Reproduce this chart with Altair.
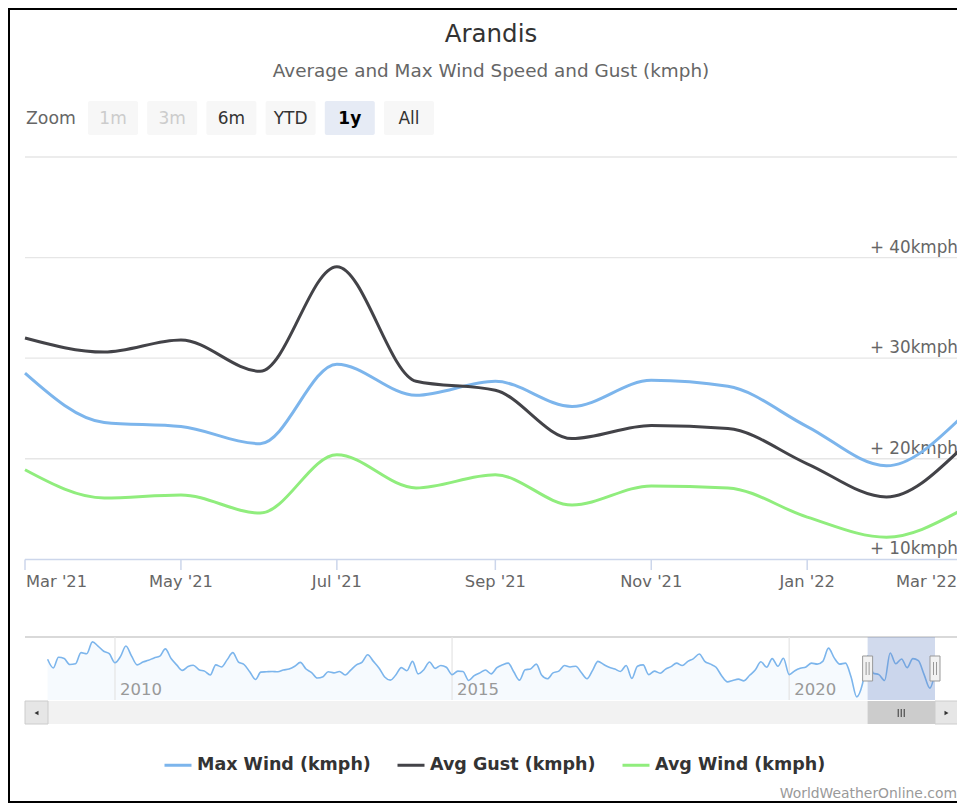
import altair as alt
import pandas as pd

# ---------------- data ----------------
months = ["2021-03-01", "2021-04-01", "2021-05-01", "2021-06-01", "2021-07-01",
          "2021-08-01", "2021-09-01", "2021-10-01", "2021-11-01", "2021-12-01",
          "2022-01-01", "2022-02-01", "2022-03-01"]
max_wind = [28.5, 23.6, 23.2, 21.5, 29.4, 26.3, 27.7, 25.2, 27.8, 27.2, 23.2, 19.3, 23.8]
avg_gust = [32.0, 30.6, 31.8, 28.7, 39.1, 27.7, 26.8, 22.0, 23.3, 23.0, 19.5, 16.2, 20.7]
avg_wind = [18.9, 16.1, 16.4, 14.6, 20.4, 17.1, 18.4, 15.4, 17.3, 17.1, 14.2, 12.2, 14.7]

series_names = ["Max Wind (kmph)", "Avg Gust (kmph)", "Avg Wind (kmph)"]
series_colors = ["#7cb5ec", "#434348", "#90ed7d"]

y_grid = [10, 20, 30, 40, 50]
y_label_values = [10, 20, 30, 40]
y_labels = ["+ 10kmph", "+ 20kmph", "+ 30kmph", "+ 40kmph"]

x_tick_months = ["2021-03-01", "2021-05-01", "2021-07-01", "2021-09-01",
                 "2021-11-01", "2022-01-01", "2022-03-01"]
x_tick_labels = ["Mar '21", "May '21", "Jul '21", "Sep '21", "Nov '21", "Jan '22", "Mar '22"]

# navigator: monthly Max Wind history, Jan 2009 .. Feb 2021 (the last year is max_wind)
nav_start = "2009-01-01"
nav_history = [
    27.6, 25.1, 28.2, 27.8, 26.1, 26.3, 29.5, 29.2, 32.6, 31.4, 29.9, 29.2,
    26.6, 28.5, 31.4, 28.5, 26.0, 26.8, 27.3, 28.0, 28.5, 30.6, 27.8, 26.0,
    24.4, 25.5, 25.9, 24.6, 24.2, 23.1, 26.0, 25.4, 27.5, 29.5, 26.8, 26.1,
    24.0, 21.8, 23.9, 24.0, 24.1, 24.0, 24.5, 24.8, 25.6, 26.7, 24.8, 23.8,
    22.2, 22.6, 24.0, 23.7, 24.1, 23.1, 24.5, 26.0, 26.8, 28.9, 27.0, 25.1,
    22.5, 21.6, 23.0, 25.2, 24.3, 27.0, 23.4, 24.6, 26.8, 25.0, 25.8, 25.3,
    23.2, 24.2, 24.1, 21.5, 22.9, 23.7, 24.5, 23.4, 25.2, 26.0, 26.5, 24.0,
    21.6, 24.6, 24.8, 26.2, 23.0, 22.0, 23.7, 24.2, 25.8, 25.4, 25.6, 23.8,
    22.0, 24.5, 27.0, 26.1, 25.3, 24.8, 24.1, 25.8, 22.1, 25.6, 26.0, 23.2,
    24.2, 23.6, 24.7, 25.5, 26.5, 25.8, 27.0, 27.8, 29.1, 27.0, 26.2, 25.3,
    22.8, 21.1, 21.5, 21.9, 21.4, 23.0, 24.5, 26.9, 25.3, 27.8, 25.6, 27.9,
    23.2, 24.3, 25.0, 25.4, 26.5, 26.2, 27.0, 30.8, 28.0, 26.2, 26.5, 22.6,
    16.8, 20.5,
]
nav_y_min, nav_y_max = 15.9, 34.0
nav_years = ["2010-01-01", "2015-01-01", "2020-01-01"]
nav_year_labels = ["2010", "2015", "2020"]

zoom_buttons = ["1m", "3m", "6m", "YTD", "1y", "All"]
zoom_states = ["disabled", "disabled", "normal", "normal", "selected", "normal"]

title_text = "Arandis"
subtitle_text = "Average and Max Wind Speed and Gust (kmph)"
credits_text = "WorldWeatherOnline.com"

# ---------------- layout helpers ----------------
W, H = 949, 795
FONT = "DejaVu Sans"


def px(x):
    return x - 8


def py(y):
    return y - 8


def dt(s):
    t = pd.Timestamp(s)
    return alt.DateTime(year=t.year, month=t.month, date=t.day, utc=True)


one = pd.DataFrame({"k": [0]})

main_x = alt.Scale(type="utc", domain=[dt(months[0]), dt(months[-1])],
                   range=[px(25), px(958)], nice=False)
main_y = alt.Scale(domain=[10, 50], range=[py(559.3), py(157)], nice=False, zero=False)

nav_values = nav_history + max_wind
nav_dates = pd.date_range(nav_start, periods=len(nav_values), freq="MS").strftime("%Y-%m-%d").tolist()
nav_x = alt.Scale(type="utc", domain=[dt(nav_dates[0]), dt(nav_dates[-1])],
                  range=[px(47.6), px(935)], nice=False)
nav_y = alt.Scale(domain=[nav_y_min, nav_y_max], range=[py(700), py(637)], nice=False,
                  zero=False, clamp=True)

# ---------------- frames ----------------
df_main = pd.DataFrame({
    "date": months * 3,
    "value": max_wind + avg_gust + avg_wind,
    "series": [series_names[0]] * len(months) + [series_names[1]] * len(months)
              + [series_names[2]] * len(months),
})
df_grid = pd.DataFrame({"v": y_grid})
df_ylab = pd.DataFrame({"v": y_label_values, "label": y_labels})
df_xt = pd.DataFrame({"date": x_tick_months, "label": x_tick_labels,
                      "idx": list(range(len(x_tick_months)))})
n_xt = len(x_tick_months)
df_nav = pd.DataFrame({"date": nav_dates, "value": nav_values,
                       "base": [nav_y_min] * len(nav_values)})
df_years = pd.DataFrame({"date": nav_years, "label": nav_year_labels})
sel_mid = (pd.Timestamp(months[0]) + (pd.Timestamp(months[-1]) - pd.Timestamp(months[0])) / 2).strftime("%Y-%m-%d")
df_sel = pd.DataFrame({"start": [months[0]], "end": [months[-1]], "mid": [sel_mid]})
df_handles = pd.DataFrame({"date": [months[0], months[-1]]})
df_btn = pd.DataFrame({"label": zoom_buttons, "state": zoom_states})

layers = []

# black frame (screenshot border: left, top, bottom)
layers.append(alt.Chart(one).mark_rule(color="#000000", strokeWidth=2).encode(
    x=alt.value(1), x2=alt.value(1), y=alt.value(0), y2=alt.value(H)))
layers.append(alt.Chart(one).mark_rule(color="#000000", strokeWidth=2).encode(
    x=alt.value(0), x2=alt.value(W), y=alt.value(1), y2=alt.value(1)))
layers.append(alt.Chart(one).mark_rule(color="#000000", strokeWidth=2).encode(
    x=alt.value(0), x2=alt.value(W), y=alt.value(H - 1), y2=alt.value(H - 1)))

# title & subtitle
layers.append(alt.Chart(one).mark_text(text=title_text, font=FONT, fontSize=24.5, color="#333333",
                                       align="center", baseline="alphabetic").encode(
    x=alt.value(px(491)), y=alt.value(py(42))))
layers.append(alt.Chart(one).mark_text(text=subtitle_text, font=FONT, fontSize=18.4, color="#666666",
                                       align="center", baseline="alphabetic").encode(
    x=alt.value(px(491)), y=alt.value(py(77))))

# zoom buttons
btn_scale = alt.Scale(type="band", domain=zoom_buttons, range=[px(88), px(434)],
                      paddingInner=0.155, paddingOuter=0)
layers.append(alt.Chart(one).mark_text(text="Zoom", font=FONT, fontSize=17.3, color="#666666",
                                       align="left", baseline="alphabetic").encode(
    x=alt.value(px(26)), y=alt.value(py(124))))
layers.append(alt.Chart(df_btn).mark_rect(cornerRadius=2).encode(
    x=alt.X("label:N", scale=btn_scale, axis=None),
    y=alt.value(py(101)), y2=alt.value(py(135)),
    color=alt.Color("state:N", scale=alt.Scale(domain=["disabled", "normal", "selected"],
                                               range=["#f7f7f7", "#f7f7f7", "#e6ebf5"]),
                    legend=None)))
layers.append(alt.Chart(df_btn).transform_filter("datum.state != 'selected'").mark_text(
    font=FONT, fontSize=17, baseline="alphabetic", align="center").encode(
    x=alt.X("label:N", scale=btn_scale, axis=None),
    y=alt.value(py(124)),
    text="label:N",
    color=alt.Color("state:N", scale=alt.Scale(domain=["disabled", "normal"],
                                               range=["#cccccc", "#333333"]), legend=None)))
layers.append(alt.Chart(df_btn).transform_filter("datum.state == 'selected'").mark_text(
    font=FONT, fontSize=17, fontWeight="bold", color="#000000", baseline="alphabetic",
    align="center").encode(
    x=alt.X("label:N", scale=btn_scale, axis=None),
    y=alt.value(py(124)),
    text="label:N"))

# main plot: grid lines and labels
layers.append(alt.Chart(df_grid).transform_filter("datum.v > 10").mark_rule(
    color="#e6e6e6", strokeWidth=1.3).encode(
    y=alt.Y("v:Q", scale=main_y, axis=None),
    x=alt.value(px(25)), x2=alt.value(px(958))))
layers.append(alt.Chart(df_ylab).mark_text(font=FONT, fontSize=16.8, color="#666666", align="right",
                                           baseline="alphabetic", dy=-5).encode(
    y=alt.Y("v:Q", scale=main_y, axis=None),
    x=alt.value(px(958)),
    text="label:N"))

# x axis line, ticks, labels
layers.append(alt.Chart(one).mark_rule(color="#ccd6eb", strokeWidth=1.5).encode(
    x=alt.value(px(25)), x2=alt.value(px(958)), y=alt.value(py(559.5)), y2=alt.value(py(559.5))))
layers.append(alt.Chart(df_xt).mark_rule(color="#ccd6eb", strokeWidth=1.5).encode(
    x=alt.X("date:T", scale=main_x, axis=None),
    y=alt.value(py(559.5)), y2=alt.value(py(570))))
for cond, al, ddx in [("datum.idx == 0", "left", 1),
                      (f"datum.idx > 0 && datum.idx < {n_xt - 1}", "center", 0),
                      (f"datum.idx == {n_xt - 1}", "right", -1)]:
    layers.append(alt.Chart(df_xt).transform_filter(cond).mark_text(
        font=FONT, fontSize=16.3, color="#666666", align=al, baseline="alphabetic", dx=ddx).encode(
        x=alt.X("date:T", scale=main_x, axis=None),
        y=alt.value(py(587)),
        text="label:N"))

# main series
layers.append(alt.Chart(df_main).mark_line(interpolate="monotone", strokeWidth=3).encode(
    x=alt.X("date:T", scale=main_x, axis=None),
    y=alt.Y("value:Q", scale=main_y, axis=None),
    color=alt.Color("series:N",
                    scale=alt.Scale(domain=series_names, range=series_colors),
                    legend=alt.Legend(orient="none", legendX=px(163), legendY=py(750),
                                      direction="horizontal", title=None,
                                      symbolType="stroke", symbolSize=729,
                                      symbolStrokeWidth=3, labelFontSize=17.5,
                                      labelFontWeight="bold", labelColor="#333333",
                                      labelFont=FONT, labelOffset=4, columnPadding=20,
                                      padding=0, labelLimit=400)),
))

# navigator
layers.append(alt.Chart(one).mark_rule(color="#cccccc", strokeWidth=1.3).encode(
    x=alt.value(px(25)), x2=alt.value(px(958)), y=alt.value(py(637)), y2=alt.value(py(637))))
layers.append(alt.Chart(df_nav).mark_area(interpolate="monotone", color="#7cb5ec", opacity=0.07).encode(
    x=alt.X("date:T", scale=nav_x, axis=None),
    y=alt.Y("value:Q", scale=nav_y, axis=None),
    y2="base:Q"))
layers.append(alt.Chart(df_years).mark_rule(color="#e6e6e6", strokeWidth=1.3).encode(
    x=alt.X("date:T", scale=nav_x, axis=None),
    y=alt.value(py(637)), y2=alt.value(py(700))))
layers.append(alt.Chart(df_years).mark_text(font=FONT, fontSize=16.5, color="#999999", align="left",
                                            baseline="alphabetic", dx=5).encode(
    x=alt.X("date:T", scale=nav_x, axis=None),
    y=alt.value(py(695)),
    text="label:N"))
layers.append(alt.Chart(df_nav).mark_line(interpolate="monotone", color="#7cb5ec", strokeWidth=1.6).encode(
    x=alt.X("date:T", scale=nav_x, axis=None),
    y=alt.Y("value:Q", scale=nav_y, axis=None)))
layers.append(alt.Chart(df_sel).mark_rect(color="#6685c2", opacity=0.3).encode(
    x=alt.X("start:T", scale=nav_x, axis=None), x2="end:T",
    y=alt.value(py(637)), y2=alt.value(py(700))))
layers.append(alt.Chart(df_handles).mark_rect(fill="#f2f2f2", stroke="#999999", strokeWidth=1,
                                              xOffset=-5, x2Offset=5).encode(
    x=alt.X("date:T", scale=nav_x, axis=None), x2="date:T",
    y=alt.value(py(656)), y2=alt.value(py(681))))
for off in [-1.5, 1.5]:
    layers.append(alt.Chart(df_handles).mark_rule(color="#999999", strokeWidth=1, xOffset=off).encode(
        x=alt.X("date:T", scale=nav_x, axis=None),
        y=alt.value(py(662)), y2=alt.value(py(675))))

# scrollbar
layers.append(alt.Chart(one).mark_rect(fill="#f2f2f2").encode(
    x=alt.value(px(25)), x2=alt.value(px(958)), y=alt.value(py(701)), y2=alt.value(py(724))))
layers.append(alt.Chart(one).mark_rect(fill="#e6e6e6", stroke="#cccccc", strokeWidth=1).encode(
    x=alt.value(px(25)), x2=alt.value(px(48)), y=alt.value(py(701)), y2=alt.value(py(724))))
layers.append(alt.Chart(one).mark_rect(fill="#e6e6e6", stroke="#cccccc", strokeWidth=1).encode(
    x=alt.value(px(935)), x2=alt.value(px(958)), y=alt.value(py(701)), y2=alt.value(py(724))))
layers.append(alt.Chart(df_sel).mark_rect(fill="#cccccc").encode(
    x=alt.X("start:T", scale=nav_x, axis=None), x2="end:T",
    y=alt.value(py(701)), y2=alt.value(py(724))))
for off in [-3, 0, 3]:
    layers.append(alt.Chart(df_sel).mark_rule(color="#333333", strokeWidth=1, xOffset=off).encode(
        x=alt.X("mid:T", scale=nav_x, axis=None),
        y=alt.value(py(709)), y2=alt.value(py(717))))
layers.append(alt.Chart(one).mark_point(shape="triangle-left", filled=True, color="#333333",
                                        size=22, opacity=1).encode(
    x=alt.value(px(36.5)), y=alt.value(py(713))))
layers.append(alt.Chart(one).mark_point(shape="triangle-right", filled=True, color="#333333",
                                        size=22, opacity=1).encode(
    x=alt.value(px(946.5)), y=alt.value(py(713))))

# credits
layers.append(alt.Chart(one).mark_text(text=credits_text, font=FONT, fontSize=13.9, color="#999999",
                                       align="right", baseline="alphabetic").encode(
    x=alt.value(px(957)), y=alt.value(py(798))))

chart = alt.layer(*layers).resolve_scale(
    x="independent", y="independent", color="independent"
).properties(
    width=W, height=H, padding=0,
    autosize=alt.AutoSizeParams(type="none"),
    background="#ffffff",
).configure(
    font=FONT,
    view=alt.ViewConfig(stroke="transparent", strokeWidth=0),
)

chart.save("out.html", embed_options={"renderer": "svg", "actions": False})
